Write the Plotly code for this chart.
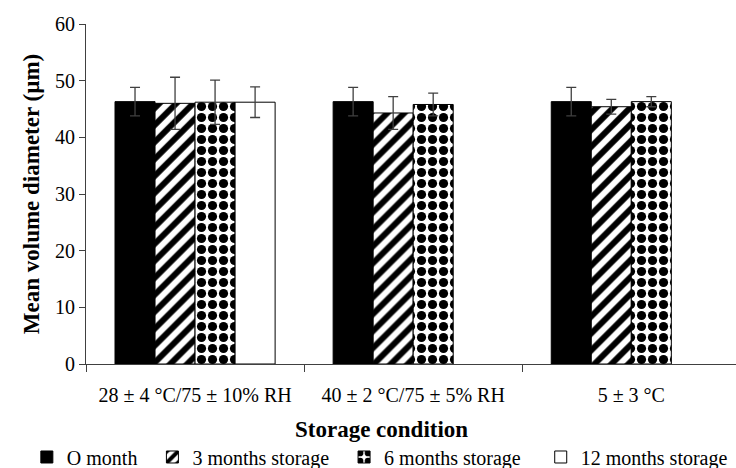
import plotly.graph_objects as go

# Storage conditions (x categories)
conditions = ["28 ± 4 °C/75 ± 10% RH", "40 ± 2 °C/75 ± 5% RH", "5 ± 3 °C"]

# Mean volume diameter (µm) and standard deviation per storage time
month0 = [46.3, 46.3, 46.3]
month0_sd = [2.5, 2.5, 2.5]
month3 = [46.0, 44.3, 45.4]
month3_sd = [4.6, 2.9, 1.3]
month6 = [46.2, 45.8, 46.3]
month6_sd = [3.9, 2.0, 0.9]
month12 = [46.2, None, None]
month12_sd = [2.7, None, None]

series_names = ["O month", "3 months storage", "6 months storage", "12 months storage"]
# extra non-breaking spaces widen the gaps between legend entries
legend_pad = [2, 2, 3, 0]

FONT = "Liberation Serif, Times New Roman, serif"
ERR_COLOR = "#404040"
AXIS_COLOR = "#404040"


def err(vals):
    return dict(type="data", array=vals, visible=True, color=ERR_COLOR,
                thickness=1.3, width=5)


def label(i):
    return series_names[i] + "\u00a0" * legend_pad[i]


fig = go.Figure()

fig.add_trace(go.Bar(
    name=label(0), x=conditions, y=month0, error_y=err(month0_sd),
    marker=dict(color="black", line=dict(color="black", width=1)),
))
fig.add_trace(go.Bar(
    name=label(1), x=conditions, y=month3, error_y=err(month3_sd),
    marker=dict(color="white", line=dict(color="black", width=1),
                pattern=dict(shape="/", fgcolor="black", bgcolor="white",
                             fgopacity=1, size=12, solidity=0.5)),
))
fig.add_trace(go.Bar(
    name=label(2), x=conditions, y=month6, error_y=err(month6_sd),
    marker=dict(color="white", line=dict(color="black", width=1),
                pattern=dict(shape=".", fgcolor="black", bgcolor="white",
                             fgopacity=1, size=11, solidity=0.55)),
))
fig.add_trace(go.Bar(
    name=label(3), x=conditions, y=month12, error_y=err(month12_sd),
    marker=dict(color="white", line=dict(color="black", width=1)),
))

fig.update_layout(
    width=736, height=468,
    margin=dict(l=86, r=0, t=24, b=104, autoexpand=False),
    paper_bgcolor="white", plot_bgcolor="white",
    font=dict(family=FONT, size=20, color="black"),
    barmode="group", bargap=0.266, bargroupgap=0,
    showlegend=True,
    legend=dict(orientation="h", x=-0.091, xanchor="left", y=-0.2735,
                yanchor="middle", font=dict(family=FONT, size=20, color="black"),
                itemwidth=30, traceorder="normal", tracegroupgap=0),
    annotations=[dict(
        text="<b>Storage condition</b>", xref="paper", yref="paper",
        x=0.454, y=-0.194, xanchor="center", yanchor="middle", showarrow=False,
        font=dict(family=FONT, size=23, color="black"),
    )],
)

fig.update_xaxes(
    type="category", range=[-0.5, 2.48],
    showline=True, linecolor=AXIS_COLOR, linewidth=1,
    ticks="outside", tickson="boundaries", ticklen=7, tickcolor=AXIS_COLOR,
    ticklabelstandoff=13,
    tickfont=dict(family=FONT, size=20, color="black"),
    showgrid=False,
)
fig.update_yaxes(
    range=[0, 60], dtick=10,
    showline=True, linecolor=AXIS_COLOR, linewidth=1,
    ticks="outside", ticklen=6, tickcolor=AXIS_COLOR,
    tickfont=dict(family=FONT, size=20, color="black"),
    showgrid=False, zeroline=False,
    title=dict(text="<b>Mean volume diameter (µm)</b>", standoff=8,
               font=dict(family=FONT, size=23, color="black")),
)

fig.write_html("out.html")
